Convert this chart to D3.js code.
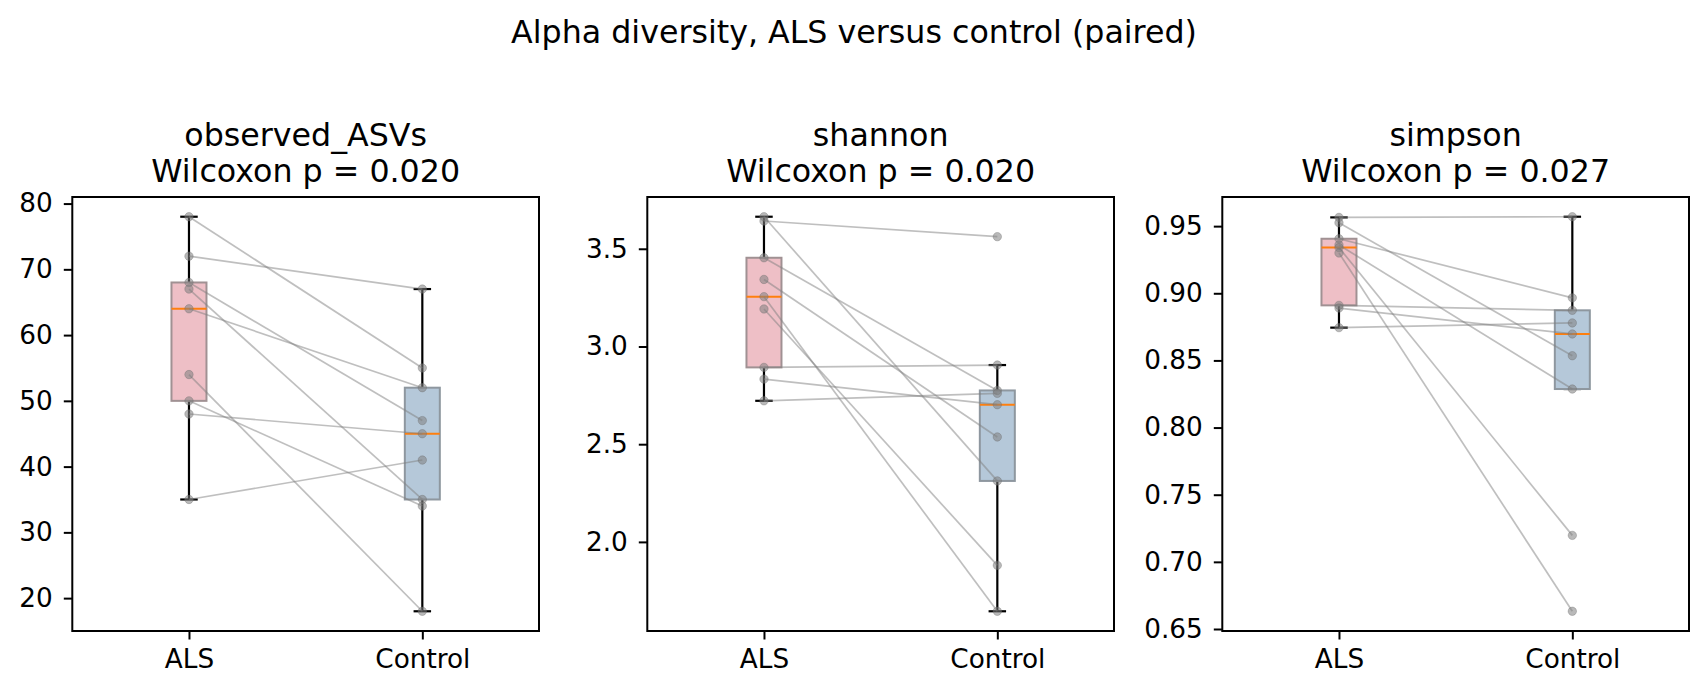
<!DOCTYPE html>
<html>
<head>
<meta charset="utf-8">
<script src="https://cdn.jsdelivr.net/npm/d3@7"></script>
<style>
    html, body { margin: 0; padding: 0; background: #fff; }
    svg { display: block; font-family: "DejaVu Sans", sans-serif; }
</style>
</head>
<body>
<div id="chart"></div>
<script>
(function(d3) {
    'use strict';

    // Data, paired by subject (index i in ALS matches index i in Control)
    var groups = ['ALS', 'Control'];

    var metrics = ['observed_ASVs', 'shannon', 'simpson'];
    var pValues = ['0.020', '0.020', '0.027'];

    var observedALS = [78, 72, 68, 67, 64, 54, 50, 48, 35];
    var observedControl = [55, 67, 47, 35, 52, 18, 34, 45, 41];

    var shannonALS = [3.664, 3.642, 3.454, 3.343, 3.255, 3.192, 2.893, 2.833, 2.722];
    var shannonControl = [2.312, 3.562, 2.775, 2.537, 1.645, 1.880, 2.905, 2.702, 2.760];

    var simpsonALS = [0.9565, 0.9525, 0.9406, 0.936, 0.934, 0.930, 0.891, 0.889, 0.8744];
    var simpsonControl = [0.957, 0.8535, 0.8966, 0.8287, 0.7197, 0.6632, 0.8873, 0.8697, 0.8779];

    var yTicks = [
        [20, 30, 40, 50, 60, 70, 80],
        [2.0, 2.5, 3.0, 3.5],
        [0.65, 0.70, 0.75, 0.80, 0.85, 0.90, 0.95]
    ];
    var yFormats = ['d', '.1f', '.2f'];

    var panelData = [
        [observedALS, observedControl],
        [shannonALS, shannonControl],
        [simpsonALS, simpsonControl]
    ];

    // Layout
    var width = 1708,
        height = 695;
    var panelLefts = [72.3, 647.3, 1222.3],
        panelWidth = 466.7,
        panelTop = 197,
        panelHeight = 434;

    var titleSize = '31.7px',
        tickSize = '26.3px';

    var boxFill = ['#eebfc6', '#b5c8d9'],
        boxStroke = ['#a09193', '#8e979f'];

    var svg = d3.select('#chart').append('svg')
        .attr('width', width)
        .attr('height', height);

    // Figure title
    svg.append('text')
        .attr('x', width / 2)
        .attr('y', 43)
        .attr('text-anchor', 'middle')
        .style('font-size', titleSize)
        .text('Alpha diversity, ALS versus control (paired)');

    // Box statistics, same rules as matplotlib (linear quartiles, 1.5 IQR whiskers)
    function boxStats(values) {
        var sorted = values.slice().sort(d3.ascending);
        var q1 = d3.quantile(sorted, 0.25),
            med = d3.quantile(sorted, 0.5),
            q3 = d3.quantile(sorted, 0.75),
            iqr = q3 - q1;
        var lo = d3.min(sorted.filter(function(v) { return v >= q1 - 1.5 * iqr; })),
            hi = d3.max(sorted.filter(function(v) { return v <= q3 + 1.5 * iqr; }));
        return {q1: q1, med: med, q3: q3, lo: lo, hi: hi};
    }

    metrics.forEach(function(metric, p) {
        var als = panelData[p][0],
            control = panelData[p][1],
            all = als.concat(control);

        // 5% padding on the data range, like matplotlib autoscale
        var extent = d3.extent(all),
            pad = (extent[1] - extent[0]) * 0.05;

        var x = d3.scaleLinear()
            .domain([0.5, 2.5])
            .range([0, panelWidth]);
        var y = d3.scaleLinear()
            .domain([extent[0] - pad, extent[1] + pad])
            .range([panelHeight, 0]);

        var g = svg.append('g')
            .attr('transform', 'translate(' + panelLefts[p] + ',' + panelTop + ')');

        // Title, two lines
        var title = g.append('text')
            .attr('text-anchor', 'middle')
            .style('font-size', titleSize);
        title.append('tspan')
            .attr('x', panelWidth / 2)
            .attr('y', 146 - panelTop)
            .text(metric);
        title.append('tspan')
            .attr('x', panelWidth / 2)
            .attr('y', 182 - panelTop)
            .text('Wilcoxon p = ' + pValues[p]);

        var boxW = x(1.15) - x(1),
            capW = boxW / 2;

        // Boxes and whiskers
        [als, control].forEach(function(values, i) {
            var s = boxStats(values),
                cx = x(i + 1);

            g.append('line')
                .attr('x1', cx).attr('x2', cx)
                .attr('y1', y(s.hi)).attr('y2', y(s.q3))
                .attr('stroke', '#000').attr('stroke-width', 2.2);
            g.append('line')
                .attr('x1', cx).attr('x2', cx)
                .attr('y1', y(s.q1)).attr('y2', y(s.lo))
                .attr('stroke', '#000').attr('stroke-width', 2.2);
            [s.lo, s.hi].forEach(function(v) {
                g.append('line')
                    .attr('x1', cx - capW / 2).attr('x2', cx + capW / 2)
                    .attr('y1', y(v)).attr('y2', y(v))
                    .attr('stroke', '#000').attr('stroke-width', 2.2);
            });

            g.append('rect')
                .attr('x', cx - boxW / 2)
                .attr('y', y(s.q3))
                .attr('width', boxW)
                .attr('height', y(s.q1) - y(s.q3))
                .attr('fill', boxFill[i])
                .attr('stroke', boxStroke[i])
                .attr('stroke-width', 2);

            g.append('line')
                .attr('x1', cx - boxW / 2).attr('x2', cx + boxW / 2)
                .attr('y1', y(s.med)).attr('y2', y(s.med))
                .attr('stroke', '#ff7f0e').attr('stroke-width', 2);
        });

        // Paired lines
        g.selectAll('.pair')
            .data(d3.range(als.length))
            .enter().append('line')
            .attr('class', 'pair')
            .attr('x1', x(1)).attr('x2', x(2))
            .attr('y1', function(i) { return y(als[i]); })
            .attr('y2', function(i) { return y(control[i]); })
            .attr('stroke', '#808080')
            .attr('stroke-opacity', 0.5)
            .attr('stroke-width', 1.7);

        // Points
        [als, control].forEach(function(values, i) {
            g.selectAll('.pt' + i)
                .data(values)
                .enter().append('circle')
                .attr('class', 'pt' + i)
                .attr('cx', x(i + 1))
                .attr('cy', function(d) { return y(d); })
                .attr('r', 4.2)
                .attr('fill', '#808080')
                .attr('fill-opacity', 0.55)
                .attr('stroke', '#6a6a6a')
                .attr('stroke-opacity', 0.35)
                .attr('stroke-width', 1);
        });

        // Axes
        var yAxis = d3.axisLeft(y)
            .tickValues(yTicks[p])
            .tickFormat(d3.format(yFormats[p]))
            .tickSize(8.5)
            .tickPadding(11);
        var xAxis = d3.axisBottom(x)
            .tickValues([1, 2])
            .tickFormat(function(d) { return groups[d - 1]; })
            .tickSize(8.5)
            .tickPadding(10);

        var ya = g.append('g').call(yAxis);
        var xa = g.append('g')
            .attr('transform', 'translate(0,' + panelHeight + ')')
            .call(xAxis);

        [ya, xa].forEach(function(a) {
            a.select('.domain').remove();
            a.selectAll('.tick line').attr('stroke', '#000').attr('stroke-width', 2);
            a.selectAll('.tick text')
                .attr('fill', '#000')
                .style('font-family', '"DejaVu Sans", sans-serif')
                .style('font-size', tickSize);
        });

        // Frame
        g.append('rect')
            .attr('width', panelWidth)
            .attr('height', panelHeight)
            .attr('fill', 'none')
            .attr('stroke', '#000')
            .attr('stroke-width', 2);
    });
}(d3));
</script>
</body>
</html>
